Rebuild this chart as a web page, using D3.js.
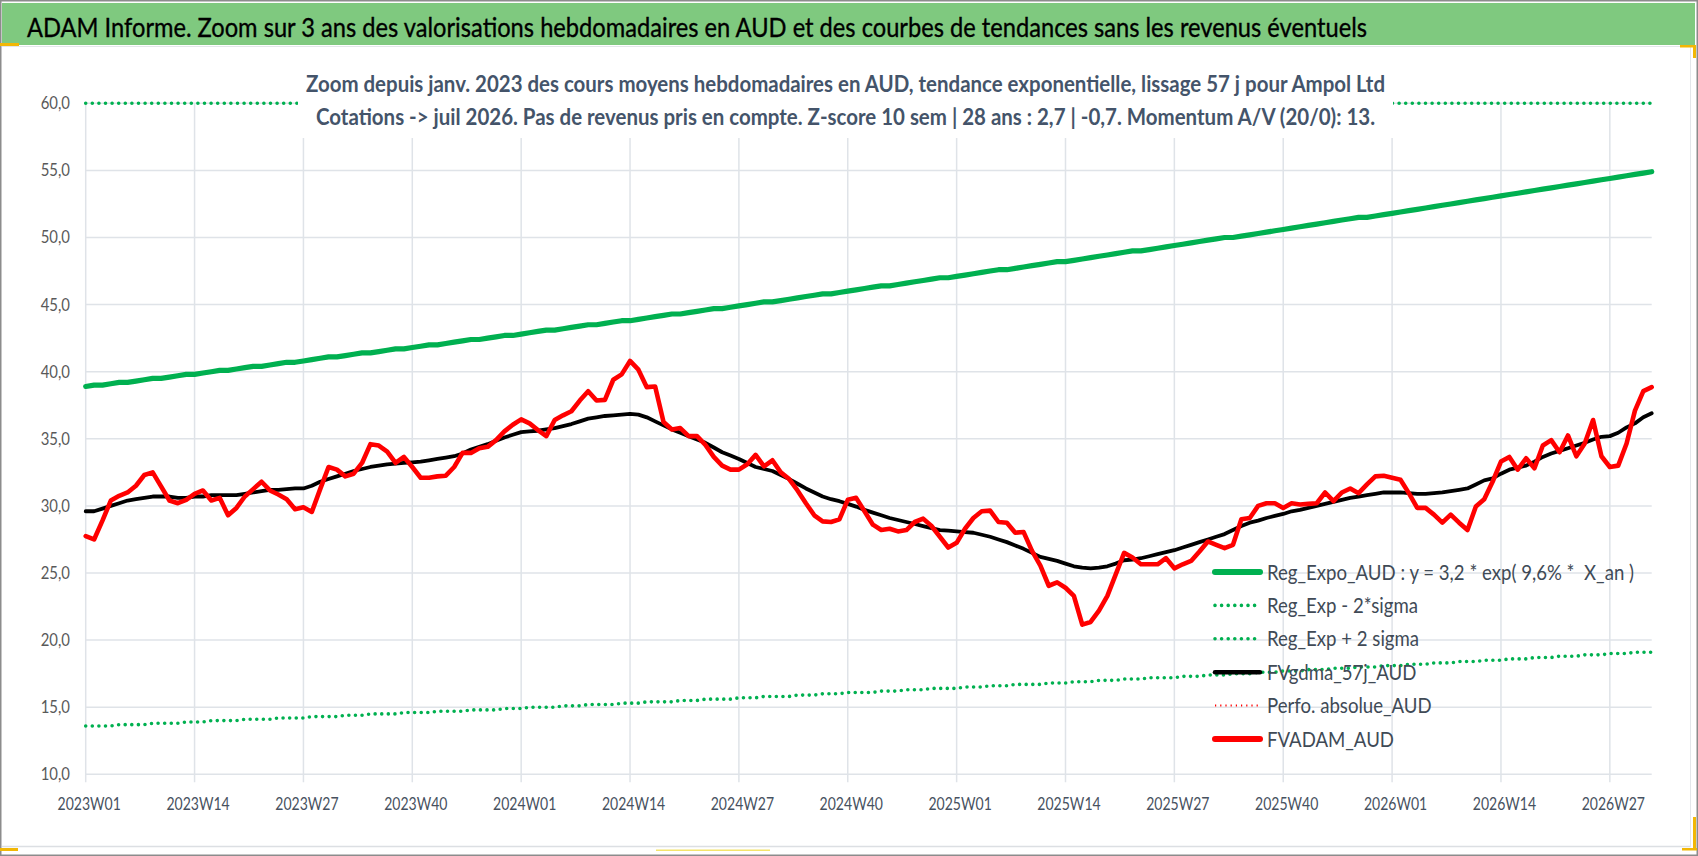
<!DOCTYPE html>
<html lang="fr">
<head>
<meta charset="UTF-8">
<title>ADAM Informe - Ampol Ltd</title>
<script src="https://d3js.org/d3.v7.min.js"></script>
<style>
  body { margin: 0; background: #fff; }
  svg { display: block; }
</style>
</head>
<body>
<script>
// ---- données ----
var years = [2023, 2024, 2025, 2026];
var weeksInYear = [52, 52, 52, 32];   // 2026 : cotations jusqu'a W32

var tickLabels = ["2023W01", "2023W14", "2023W27", "2023W40", "2024W01", "2024W14", "2024W27",
  "2024W40", "2025W01", "2025W14", "2025W27", "2025W40", "2026W01", "2026W14", "2026W27"];

var yTicks = [10, 15, 20, 25, 30, 35, 40, 45, 50, 55, 60];

// Reg_Expo_AUD
var regExpo = [
  38.9, 39.0, 39.0, 39.1, 39.2, 39.2, 39.3, 39.4, 39.5, 39.5, 39.6, 39.7, 39.8,
  39.8, 39.9, 40.0, 40.1, 40.1, 40.2, 40.3, 40.4, 40.4, 40.5, 40.6, 40.7, 40.7,
  40.8, 40.9, 41.0, 41.1, 41.1, 41.2, 41.3, 41.4, 41.4, 41.5, 41.6, 41.7, 41.7,
  41.8, 41.9, 42.0, 42.0, 42.1, 42.2, 42.3, 42.4, 42.4, 42.5, 42.6, 42.7, 42.7,
  42.8, 42.9, 43.0, 43.1, 43.1, 43.2, 43.3, 43.4, 43.5, 43.5, 43.6, 43.7, 43.8,
  43.8, 43.9, 44.0, 44.1, 44.2, 44.3, 44.3, 44.4, 44.5, 44.6, 44.7, 44.7, 44.8,
  44.9, 45.0, 45.1, 45.2, 45.2, 45.3, 45.4, 45.5, 45.6, 45.7, 45.8, 45.8, 45.9,
  46.0, 46.1, 46.2, 46.3, 46.4, 46.4, 46.5, 46.6, 46.7, 46.8, 46.9, 47.0, 47.0,
  47.1, 47.2, 47.3, 47.4, 47.5, 47.6, 47.6, 47.7, 47.8, 47.9, 48.0, 48.1, 48.2,
  48.2, 48.3, 48.4, 48.5, 48.6, 48.7, 48.8, 48.9, 49.0, 49.0, 49.1, 49.2, 49.3,
  49.4, 49.5, 49.6, 49.7, 49.8, 49.9, 50.0, 50.0, 50.1, 50.2, 50.3, 50.4, 50.5,
  50.6, 50.7, 50.8, 50.9, 51.0, 51.1, 51.2, 51.3, 51.4, 51.5, 51.5, 51.6, 51.7,
  51.8, 51.9, 52.0, 52.1, 52.2, 52.3, 52.4, 52.5, 52.6, 52.7, 52.8, 52.9, 53.0,
  53.1, 53.2, 53.3, 53.4, 53.5, 53.6, 53.7, 53.8, 53.9, 54.0, 54.1, 54.2, 54.3,
  54.4, 54.5, 54.6, 54.7, 54.8, 54.9
];

// Reg_Exp - 2*sigma
var regExpMinus = [
  13.6, 13.6, 13.6, 13.6, 13.7, 13.7, 13.7, 13.7, 13.8, 13.8, 13.8, 13.8, 13.9,
  13.9, 13.9, 14.0, 14.0, 14.0, 14.0, 14.1, 14.1, 14.1, 14.1, 14.2, 14.2, 14.2,
  14.2, 14.3, 14.3, 14.3, 14.3, 14.4, 14.4, 14.4, 14.5, 14.5, 14.5, 14.5, 14.6,
  14.6, 14.6, 14.6, 14.7, 14.7, 14.7, 14.7, 14.8, 14.8, 14.8, 14.8, 14.9, 14.9,
  14.9, 15.0, 15.0, 15.0, 15.0, 15.1, 15.1, 15.1, 15.2, 15.2, 15.2, 15.2, 15.3,
  15.3, 15.3, 15.4, 15.4, 15.4, 15.4, 15.5, 15.5, 15.5, 15.6, 15.6, 15.6, 15.6,
  15.7, 15.7, 15.7, 15.8, 15.8, 15.8, 15.8, 15.9, 15.9, 15.9, 16.0, 16.0, 16.0,
  16.1, 16.1, 16.1, 16.1, 16.2, 16.2, 16.2, 16.3, 16.3, 16.3, 16.4, 16.4, 16.4,
  16.4, 16.5, 16.5, 16.5, 16.6, 16.6, 16.6, 16.7, 16.7, 16.7, 16.7, 16.8, 16.8,
  16.8, 16.9, 16.9, 16.9, 17.0, 17.0, 17.0, 17.1, 17.1, 17.1, 17.2, 17.2, 17.2,
  17.2, 17.3, 17.3, 17.3, 17.4, 17.4, 17.4, 17.5, 17.5, 17.5, 17.6, 17.6, 17.6,
  17.7, 17.7, 17.7, 17.8, 17.8, 17.8, 17.9, 17.9, 17.9, 18.0, 18.0, 18.0, 18.1,
  18.1, 18.1, 18.2, 18.2, 18.2, 18.3, 18.3, 18.3, 18.4, 18.4, 18.4, 18.5, 18.5,
  18.5, 18.6, 18.6, 18.6, 18.7, 18.7, 18.7, 18.8, 18.8, 18.8, 18.9, 18.9, 18.9,
  19.0, 19.0, 19.0, 19.1, 19.1, 19.1
];

// Reg_Exp + 2 sigma (plafonnée au haut de l'échelle, 60)
var regExpPlus = [
  60, 60, 60, 60, 60, 60, 60, 60, 60, 60, 60, 60, 60, 60, 60, 60, 60, 60, 60, 60,
  60, 60, 60, 60, 60, 60, 60, 60, 60, 60, 60, 60, 60, 60, 60, 60, 60, 60, 60, 60,
  60, 60, 60, 60, 60, 60, 60, 60, 60, 60, 60, 60, 60, 60, 60, 60, 60, 60, 60, 60,
  60, 60, 60, 60, 60, 60, 60, 60, 60, 60, 60, 60, 60, 60, 60, 60, 60, 60, 60, 60,
  60, 60, 60, 60, 60, 60, 60, 60, 60, 60, 60, 60, 60, 60, 60, 60, 60, 60, 60, 60,
  60, 60, 60, 60, 60, 60, 60, 60, 60, 60, 60, 60, 60, 60, 60, 60, 60, 60, 60, 60,
  60, 60, 60, 60, 60, 60, 60, 60, 60, 60, 60, 60, 60, 60, 60, 60, 60, 60, 60, 60,
  60, 60, 60, 60, 60, 60, 60, 60, 60, 60, 60, 60, 60, 60, 60, 60, 60, 60, 60, 60,
  60, 60, 60, 60, 60, 60, 60, 60, 60, 60, 60, 60, 60, 60, 60, 60, 60, 60, 60, 60,
  60, 60, 60, 60, 60, 60, 60, 60
];

// FVgdma_57j_AUD
var fvgdma = [
  29.6, 29.6, 29.8, 30.0, 30.2, 30.4, 30.5, 30.6, 30.7, 30.7,
  30.7, 30.6, 30.6, 30.7, 30.7, 30.8, 30.8, 30.8, 30.8, 30.9,
  31.0, 31.1, 31.2, 31.2, 31.25, 31.3, 31.3, 31.5, 31.8, 32.0,
  32.2, 32.4, 32.6, 32.75, 32.9, 33.0, 33.1, 33.15, 33.2, 33.25,
  33.3, 33.4, 33.5, 33.6, 33.7, 33.9, 34.2, 34.4, 34.6, 34.85,
  35.1, 35.3, 35.5, 35.55, 35.6, 35.7, 35.8, 35.95, 36.1, 36.3,
  36.5, 36.6, 36.7, 36.75, 36.8, 36.85, 36.8, 36.6, 36.3, 36.0,
  35.7, 35.45, 35.2, 34.95, 34.7, 34.35, 34.0, 33.75, 33.5, 33.2,
  32.9, 32.75, 32.6, 32.3, 32.0, 31.65, 31.3, 31.0, 30.7, 30.5,
  30.35, 30.15, 29.95, 29.7, 29.5, 29.3, 29.1, 28.95, 28.8, 28.65,
  28.5, 28.35, 28.2, 28.15, 28.1, 28.05, 28.0, 27.85, 27.7, 27.5,
  27.3, 27.05, 26.8, 26.5, 26.2, 26.05, 25.9, 25.7, 25.5, 25.4,
  25.35, 25.4, 25.5, 25.7, 25.95, 26.0, 26.1, 26.25, 26.4, 26.55,
  26.7, 26.9, 27.1, 27.3, 27.5, 27.7, 27.9, 28.2, 28.5, 28.75,
  28.9, 29.1, 29.25, 29.4, 29.6, 29.7, 29.85, 30.0, 30.15, 30.3,
  30.45, 30.6, 30.7, 30.8, 30.9, 31.0, 31.0, 31.0, 30.95, 30.9,
  30.9, 30.95, 31.0, 31.1, 31.2, 31.3, 31.6, 31.9, 32.05, 32.4,
  32.7, 32.85, 33.0, 33.3, 33.65, 33.9, 34.1, 34.3, 34.5, 34.7,
  34.95, 35.15, 35.2, 35.45, 35.85, 36.15, 36.6, 36.9
];

// FVADAM_AUD
var fvadam = [
  27.75, 27.5, 28.9, 30.4, 30.75, 31.0, 31.5, 32.3, 32.5, 31.45,
  30.4, 30.2, 30.45, 30.9, 31.15, 30.4, 30.6, 29.3, 29.85, 30.7,
  31.25, 31.8, 31.15, 30.85, 30.5, 29.75, 29.9, 29.55, 31.25, 32.9,
  32.7, 32.2, 32.4, 33.2, 34.6, 34.5, 34.05, 33.2, 33.65, 32.9,
  32.1, 32.1, 32.2, 32.25, 32.9, 33.95, 33.95, 34.3, 34.4, 34.9,
  35.55, 36.05, 36.45, 36.15, 35.65, 35.2, 36.4, 36.75, 37.05, 37.85,
  38.55, 37.85, 37.9, 39.4, 39.8, 40.8, 40.15, 38.85, 38.9, 36.25,
  35.7, 35.8, 35.2, 35.2, 34.55, 33.65, 33.0, 32.7, 32.7, 33.1,
  33.8, 32.95, 33.4, 32.5, 32.0, 31.15, 30.2, 29.3, 28.85, 28.8,
  29.0, 30.45, 30.6, 29.6, 28.6, 28.2, 28.3, 28.1, 28.2, 28.8,
  29.05, 28.5, 27.7, 26.9, 27.25, 28.3, 29.1, 29.6, 29.65, 28.8,
  28.75, 28.0, 28.05, 26.65, 25.55, 24.05, 24.3, 23.9, 23.3, 21.15,
  21.35, 22.2, 23.3, 24.9, 26.5, 26.15, 25.65, 25.65, 25.65, 26.1,
  25.35, 25.65, 25.9, 26.6, 27.35, 27.1, 26.85, 27.1, 29.0, 29.1,
  30.0, 30.2, 30.2, 29.85, 30.2, 30.1, 30.15, 30.2, 31.0, 30.35,
  31.0, 31.3, 30.95, 31.6, 32.2, 32.25, 32.1, 31.95, 30.95, 29.85,
  29.85, 29.35, 28.75, 29.35, 28.75, 28.2, 29.95, 30.5, 31.8, 33.3,
  33.65, 32.7, 33.55, 32.8, 34.5, 34.9, 34.0, 35.25, 33.7, 34.65,
  36.4, 33.7, 32.9, 33.0, 34.65, 37.1, 38.55, 38.85
];

var title = "ADAM Informe. Zoom sur 3 ans des valorisations hebdomadaires en AUD et des courbes de tendances sans les revenus éventuels";
var subtitle = [
  "Zoom depuis janv. 2023 des cours moyens hebdomadaires en AUD, tendance exponentielle, lissage 57 j pour Ampol Ltd",
  "Cotations -> juil 2026. Pas de revenus pris en compte. Z-score 10 sem | 28 ans : 2,7 | -0,7. Momentum A/V (20/0): 13."
];
var legendLabels = ["Reg_Expo_AUD : y = 3,2 * exp( 9,6% *\u00a0 X_an )", "Reg_Exp - 2*sigma", "Reg_Exp + 2 sigma",
  "FVgdma_57j_AUD", "Perfo. absolue_AUD", "FVADAM_AUD"];

// ---- catégories (semaines) ----
var weeks = [];
years.forEach(function (y, k) {
  for (var w = 1; w <= weeksInYear[k]; w++) weeks.push(y + "W" + (w < 10 ? "0" + w : w));
});

// ---- mise en page ----
var width = 1698, height = 856;
var plot = { left: 85.7, right: 1651.7, top: 103.3, bottom: 774.3 };
var font = "Lato, 'Open Sans', 'DejaVu Sans', sans-serif";
var grid = "#dfe3e8";

var svg = d3.select("body").append("svg")
  .attr("width", width).attr("height", height);

// resserre le texte pour que le premier noeud fasse `target` px, même rapport pour les autres
function fit(sel, target) {
  var nodes = sel.nodes();
  if (!nodes.length) return;
  var k = target / nodes[0].getComputedTextLength();
  nodes.forEach(function (n) {
    n.setAttribute("textLength", n.getComputedTextLength() * k);
    n.setAttribute("lengthAdjust", "spacingAndGlyphs");
  });
}

// fond + cadre
svg.append("rect").attr("width", width).attr("height", height).attr("fill", "#fff");
svg.append("rect").attr("x", 2).attr("y", 3).attr("width", 1693).attr("height", 42).attr("fill", "#7fc97f");
svg.append("line").attr("x1", 2).attr("x2", 1695).attr("y1", 46.5).attr("y2", 46.5).attr("stroke", "#e3e6ea");
svg.append("line").attr("x1", 2).attr("x2", 1691).attr("y1", 846.5).attr("y2", 846.5).attr("stroke", "#dcdfe3").attr("stroke-width", 1.5);
svg.append("line").attr("x1", 1690.5).attr("x2", 1690.5).attr("y1", 47).attr("y2", 847).attr("stroke", "#e3e6ea");
svg.append("rect").attr("x", 0.75).attr("y", 0.75).attr("width", width - 1.5).attr("height", height - 1.5)
  .attr("fill", "none").attr("stroke", "#8c8c8c").attr("stroke-width", 1.5);

// poignées de sélection Excel
var handles = [[0, 43, 19, 3, "#f2b705"], [1680, 45, 16, 2.5, "#f2b705"], [1693, 45, 3, 13, "#f2b705"],
  [0, 848, 18, 3, "#f2b705"], [656, 849.5, 114, 1.5, "#f4e46b"], [1693, 817, 3, 33, "#f2b705"], [1682, 848, 15, 2.5, "#f2b705"]];
svg.selectAll("rect.handle").data(handles).enter().append("rect")
  .attr("class", "handle")
  .attr("x", function (d) { return d[0]; }).attr("y", function (d) { return d[1]; })
  .attr("width", function (d) { return d[2]; }).attr("height", function (d) { return d[3]; })
  .attr("fill", function (d) { return d[4]; });

// titre
var titleText = svg.append("text")
  .attr("x", 27).attr("y", 36.5)
  .attr("font-family", font).attr("font-size", 27.5).attr("fill", "#000")
  .attr("stroke", "#000").attr("stroke-width", 0.35)
  .text(title);
fit(titleText, 1340);

// ---- échelles ----
var x = d3.scalePoint().domain(weeks).range([plot.left, plot.right]);
var y = d3.scaleLinear().domain([10, 60]).range([plot.bottom, plot.top]);
var fr = d3.formatLocale({ decimal: ",", thousands: " ", grouping: [3], currency: ["", " €"] });
var fmt = fr.format(".1f");

// quadrillage
svg.append("g").selectAll("line").data(yTicks).enter().append("line")
  .attr("x1", plot.left).attr("x2", plot.right)
  .attr("y1", function (d) { return y(d); }).attr("y2", function (d) { return y(d); })
  .attr("stroke", grid).attr("stroke-width", 1.5);

svg.append("g").selectAll("line").data(tickLabels).enter().append("line")
  .attr("x1", function (d) { return x(d); }).attr("x2", function (d) { return x(d); })
  .attr("y1", plot.top).attr("y2", plot.bottom + 8)
  .attr("stroke", grid).attr("stroke-width", 1.5);

// axe Y
var yLab = svg.append("g").selectAll("text").data(yTicks).enter().append("text")
  .attr("x", 70).attr("y", function (d) { return y(d); }).attr("dy", "0.36em")
  .attr("text-anchor", "end")
  .attr("font-family", font).attr("font-size", 16.5).attr("fill", "#595959")
  .text(function (d) { return fmt(d); });
fit(yLab, 29.3);

// axe X
var xLab = svg.append("g").selectAll("text").data(tickLabels).enter().append("text")
  .attr("x", function (d) { return x(d) + 3.5; }).attr("y", 810)
  .attr("text-anchor", "middle")
  .attr("font-family", font).attr("font-size", 18).attr("fill", "#475160")
  .text(function (d) { return d; });
fit(xLab, 63.3);

// ---- séries ----
var line = d3.line()
  .x(function (d, i) { return x(weeks[i]); })
  .y(function (d) { return y(d); });

var series = [
  { values: regExpo, color: "#00b050", width: 5.2, dash: null },
  { values: regExpMinus, color: "#00b050", width: 3.6, dash: "0 6.6" },
  { values: regExpPlus, color: "#00b050", width: 3.6, dash: "0 6.6" },
  { values: fvgdma, color: "#000000", width: 3.8, dash: null },
  { values: fvadam, color: "#ff0000", width: 4.6, dash: null }
];

svg.append("g").selectAll("path").data(series).enter().append("path")
  .attr("d", function (d) { return line(d.values); })
  .attr("fill", "none")
  .attr("stroke", function (d) { return d.color; })
  .attr("stroke-width", function (d) { return d.width; })
  .attr("stroke-dasharray", function (d) { return d.dash; })
  .attr("stroke-linecap", "round")
  .attr("stroke-linejoin", "round");

// sous-titre (cadre blanc par-dessus la zone de tracé)
svg.append("rect").attr("x", 298).attr("y", 55).attr("width", 1095).attr("height", 83).attr("fill", "#fff");
var sub = svg.append("g").selectAll("text").data(subtitle).enter().append("text")
  .attr("x", 845.5).attr("y", function (d, i) { return i === 0 ? 91.7 : 125; })
  .attr("text-anchor", "middle")
  .attr("font-family", font).attr("font-size", 23).attr("font-weight", "bold").attr("fill", "#44546a")
  .text(function (d) { return d; });
fit(d3.select(sub.nodes()[0]), 1079);
fit(d3.select(sub.nodes()[1]), 1059);

// ---- légende ----
var legendStyle = [
  { color: "#00b050", width: 6, dash: null, cap: "round" },
  { color: "#00b050", width: 3.6, dash: "0 6.6", cap: "round" },
  { color: "#00b050", width: 3.6, dash: "0 6.6", cap: "round" },
  { color: "#000000", width: 4.5, dash: null, cap: "round" },
  { color: "#ff0000", width: 2, dash: "1.2 4", cap: "butt" },
  { color: "#ff0000", width: 6, dash: null, cap: "round" }
];
var legend = svg.append("g").attr("transform", "translate(1213,572)");
var rows = legend.selectAll("g").data(legendLabels).enter().append("g")
  .attr("transform", function (d, i) { return "translate(0," + (i * 33.4) + ")"; });
rows.append("line")
  .attr("x1", 2).attr("x2", 47).attr("y1", 0).attr("y2", 0)
  .attr("stroke", function (d, i) { return legendStyle[i].color; })
  .attr("stroke-width", function (d, i) { return legendStyle[i].width; })
  .attr("stroke-dasharray", function (d, i) { return legendStyle[i].dash; })
  .attr("stroke-linecap", function (d, i) { return legendStyle[i].cap; });
var legText = rows.append("text")
  .attr("x", 54).attr("y", 0).attr("dy", "0.36em")
  .attr("font-family", font).attr("font-size", 21).attr("fill", "#404a56")
  .text(function (d) { return d; });
fit(legText, 367);
</script>
</body>
</html>
